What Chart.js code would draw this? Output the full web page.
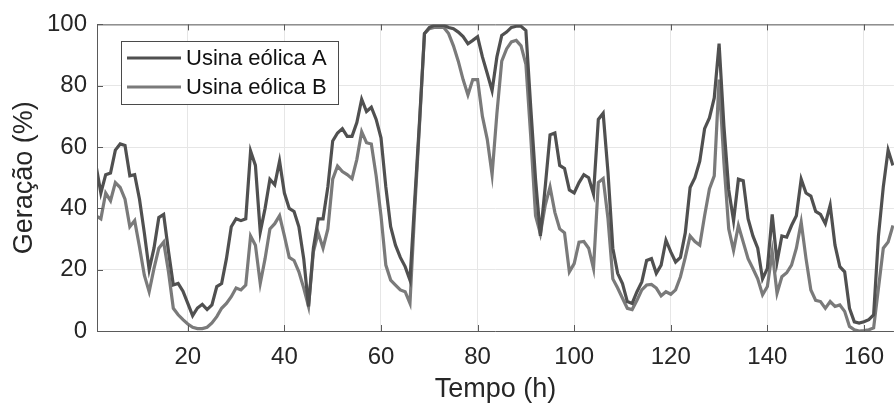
<!DOCTYPE html>
<html>
<head>
<meta charset="utf-8">
<script src="https://cdn.jsdelivr.net/npm/chart.js@4/dist/chart.umd.min.js"></script>
<style>
  html, body { margin: 0; padding: 0; background: #fff; }
  #wrap { width: 896px; height: 408px; position: relative; }
</style>
</head>
<body>
<div id="wrap"><canvas id="windChart"></canvas></div>
<script>
const hours = Array.from({ length: 166 }, (_, i) => i + 1);

const usinaA = [
    54, 45, 51, 51.5, 59, 61, 60.5, 50.6, 51, 43,
    32, 20, 27, 37, 38, 26, 15, 15.5, 13, 9,
    5, 7.5, 8.7, 7, 8.5, 14.5, 15.5, 23.6, 34, 36.6,
    36, 36.6, 58.7, 54, 32.3, 40, 49.5, 47.7, 55.4, 45,
    40, 39, 34, 23.6, 8, 27, 36.6, 36.6, 47, 62,
    64.6, 66, 63.5, 63.5, 68, 75.6, 71.6, 73, 69, 63,
    47, 34, 28, 24, 21, 16.6, 43, 69, 97, 99,
    99.7, 99.7, 99.7, 99, 98.6, 97.5, 96, 93.7, 94.8, 96,
    89.4, 84, 78.4, 89.4, 96.4, 97.5, 99, 99.4, 99.4, 98,
    73, 49.5, 31, 47, 64, 64.6, 54, 53, 46, 45,
    48.4, 51, 50, 44.7, 69, 71, 51.7, 27, 18.8, 15.5,
    9.6, 9, 12.8, 16, 23, 23.6, 18.8, 21.5, 29.6, 25.8,
    22.5, 24, 32, 46.8, 50, 55.4, 66, 69.5, 76, 93.7,
    66.8, 46, 36, 49.5, 49, 36.6, 31, 27, 17, 20.4,
    38, 22.5, 31, 30.6, 34.4, 37.6, 49.5, 45, 44, 39,
    38, 35, 41, 28, 21, 19.3, 7.4, 3, 2.6, 3,
    3.7, 5.3, 31, 47, 59, 54
];

const usinaB = [
    37.6, 36.6, 45, 42.5, 48.4, 46.8, 43, 34, 36, 27.4,
    18.2, 12.8, 20.4, 27, 29, 19.3, 7.4, 5.3, 3.7, 2.3,
    1.2, 0.8, 0.8, 1.2, 2.6, 4.7, 7.4, 9, 11.2, 14,
    13.4, 15, 31, 28, 15.5, 23.6, 33.3, 35, 37.6, 31,
    24, 23, 19.3, 14, 8, 25.8, 32, 27, 33.3, 49.5,
    53.8, 52, 51, 49.7, 56, 65, 61.4, 61, 50.6, 37.6,
    21.5, 16.6, 15, 13.4, 12.8, 9, 40, 68, 97, 98.6,
    99, 99, 99, 97, 93, 88, 82, 77, 82, 82,
    70, 62.5, 51, 71, 88, 92, 94.3, 94.8, 93, 87,
    63.5, 37.6, 31.7, 41, 47, 38.7, 33.3, 32, 19.3, 22,
    29, 29.2, 27, 20.4, 48.4, 49.7, 36.6, 17, 14, 10.7,
    7.4, 7, 10, 13.4, 15, 15.2, 14, 11.5, 12.8, 12,
    13.4, 17.7, 24, 31, 29.2, 28, 37.6, 46.3, 50.6, 82,
    55, 33.3, 26.3, 34.4, 29, 23.6, 20.4, 17, 11.8, 14.5,
    25.8, 12.3, 17.7, 19, 21.5, 27, 35.5, 23.6, 13.4, 10,
    9.6, 7.4, 9.6, 8, 8.5, 6.4, 1.5, 0.4, 0, 0.1,
    0.4, 1, 14, 27, 29, 34.4
];

const xTicks = [20, 40, 60, 80, 100, 120, 140, 160];
const yTicks = [0, 20, 40, 60, 80, 100];

const FONT = "'Liberation Sans', Arial, Helvetica, sans-serif";
const TEXT = '#262626';
const AXIS = '#5a5a5a';

function toPoints(values) {
    return hours.map((h, i) => ({ x: h, y: values[i] }));
}

// box round the axes, MATLAB style inner ticks, and the legend in the corner
const framePlugin = {
    id: 'frame',
    afterDatasetsDraw(chart) {
        const { ctx, chartArea: a, scales } = chart;
        ctx.save();
        ctx.strokeStyle = AXIS;
        ctx.lineWidth = 1;
        ctx.beginPath();
        ctx.moveTo(a.left + 0.5, a.bottom + 0.5);
        ctx.lineTo(a.left + 0.5, a.top + 0.5);
        ctx.lineTo(a.right, a.top + 0.5);
        ctx.moveTo(a.left, a.bottom + 0.5);
        ctx.lineTo(a.right, a.bottom + 0.5);
        xTicks.forEach((t) => {
            const px = Math.round(scales.x.getPixelForValue(t)) + 0.5;
            ctx.moveTo(px, a.bottom);
            ctx.lineTo(px, a.bottom - 6);
            ctx.moveTo(px, a.top);
            ctx.lineTo(px, a.top + 6);
        });
        yTicks.forEach((t) => {
            const py = Math.round(scales.y.getPixelForValue(t)) + 0.5;
            ctx.moveTo(a.left, py);
            ctx.lineTo(a.left + 6, py);
        });
        ctx.stroke();

        // legend
        const bx = 121, by = 41, bw = 217, bh = 63;
        ctx.fillStyle = '#fff';
        ctx.fillRect(bx, by, bw, bh);
        ctx.strokeStyle = '#4a4a4a';
        ctx.strokeRect(bx + 0.5, by + 0.5, bw, bh);
        ctx.font = '22px ' + FONT;
        ctx.textBaseline = 'middle';
        ctx.textAlign = 'left';
        chart.data.datasets.forEach((ds, i) => {
            const y = by + 17 + i * 29;
            ctx.strokeStyle = ds.borderColor;
            ctx.lineWidth = 3;
            ctx.beginPath();
            ctx.moveTo(127, y);
            ctx.lineTo(181, y);
            ctx.stroke();
            ctx.fillStyle = '#111';
            ctx.fillText(ds.label, 186, y + 1);
        });
        ctx.restore();
    },
};

new Chart(document.getElementById('windChart').getContext('2d'), {
    type: 'line',
    data: {
        datasets: [
            { label: 'Usina eólica A', data: toPoints(usinaA), borderColor: '#505050', borderWidth: 3.2 },
            { label: 'Usina eólica B', data: toPoints(usinaB), borderColor: '#7a7a7a', borderWidth: 3.2 },
        ],
    },
    options: {
        responsive: true,
        maintainAspectRatio: false,
        animation: false,
        layout: { padding: { top: 22, right: 0, left: 0, bottom: 0 } },
        elements: { point: { radius: 0 }, line: { tension: 0 } },
        plugins: { legend: { display: false }, tooltip: { enabled: false } },
        scales: {
            x: {
                type: 'linear',
                min: 1.2,
                max: 166.2,
                afterBuildTicks: (scale) => { scale.ticks = xTicks.map((v) => ({ value: v })); },
                afterFit: (scale) => { scale.height = 77; },
                grid: { color: '#e6e6e6', drawTicks: false },
                border: { display: false },
                ticks: { font: { family: FONT, size: 24 }, color: TEXT, padding: 12, maxRotation: 0 },
                title: { display: true, text: 'Tempo (h)', font: { family: FONT, size: 27 }, color: TEXT, padding: { top: 0, bottom: 2 } },
            },
            y: {
                min: 0,
                max: 100,
                afterBuildTicks: (scale) => { scale.ticks = yTicks.map((v) => ({ value: v })); },
                afterFit: (scale) => { scale.width = 97; },
                grid: { color: '#e6e6e6', drawTicks: false },
                border: { display: false },
                ticks: { font: { family: FONT, size: 24 }, color: TEXT, padding: 10 },
                title: { display: true, text: 'Geração (%)', font: { family: FONT, size: 27 }, color: TEXT, padding: { top: 8, bottom: 0 } },
            },
        },
    },
    plugins: [framePlugin],
});
</script>
</body>
</html>
